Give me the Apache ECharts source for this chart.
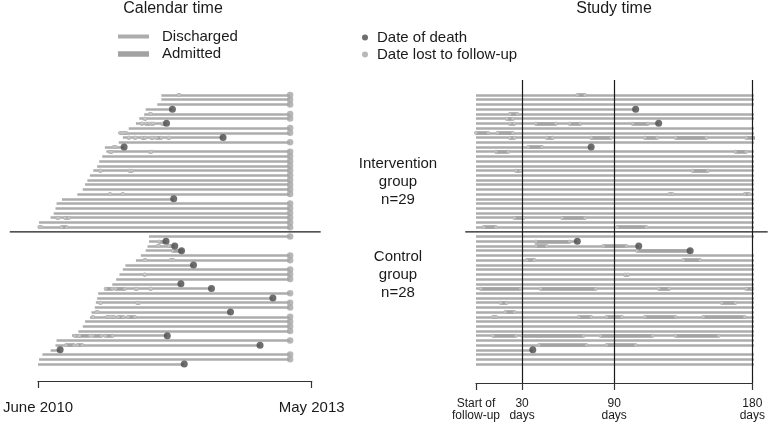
<!DOCTYPE html>
<html><head><meta charset="utf-8">
<script src="https://cdn.jsdelivr.net/npm/echarts@6/dist/echarts.min.js"></script>
<style>html,body{margin:0;padding:0;background:#fff}#c{width:768px;height:425px}</style>
</head><body><div id="c"></div>
<script>
// ---- Axis ticks ----
// Calendar time in days since 1 June 2010
const calendarTickDays = [0, 1065];
const calendarTickLabels = ['June 2010', 'May 2013'];
const studyTickDays = [0, 30, 90, 180];
const studyTickLabels = ['Start of\nfollow-up', '30\ndays', '90\ndays', '180\ndays'];
const studyRefLines = [30, 90, 180];
const endOfStudyDay = 981;       // calendar day on which all surviving patients were censored
const studyFollowUpDays = 182.5; // length of follow-up shown in study time
// extent of the group divider in each panel (axis units)
const calendarDividerSpan = [-110, 1100];
const studyDividerSpan = [-7, 190];

// ---- Groups ----
const groupNames = ['Intervention\ngroup', 'Control\ngroup'];

// Intervention group: start of follow-up (calendar day), death (study day), admissions (study days)
const interventionStart = [480,480,464,419,413,394,381,353,319,330,314,260,266,250,238,230,215,202,192,183,174,153,93,72,68,61,49,4,0];
const interventionDeath = [null,null,null,104,null,null,119,null,null,390,null,75,null,null,null,null,null,null,null,null,null,null,435,null,null,null,null,null,null];
const interventionAdmissions = [
  [[66,71]], [], [], [], [[22,27]], [[20,24]], [[22,25],[39,52],[61,68],[102,112]], [],
  [[0,8],[14,24]], [[22,25],[46,50],[75,88],[110,118],[130,150],[176,182]], [], [[34,43]],
  [[13,21],[169,176]], [], [], [], [[26,29],[141,151]], [], [], [], [],
  [[126,128],[175,178]], [], [], [], [], [[25,31],[56,71]], [], [[5,13],[92,111]]
];

// Control group
const controlStart = [432,432,426,419,400,381,340,330,317,304,289,260,234,230,225,221,208,202,183,174,157,132,72,68,49,17,4,0];
const controlDeath = [null,66,106,139.5,null,null,265,null,null,null,267,415,null,684,null,null,541,null,null,null,null,371,null,796,37,null,null,569];
const controlAdmissions = [
  [], [[39,61]], [[39,46],[83,98]], [[105,139]], [], [[33,38],[135,146]], [], [], [[97,99]], [], [],
  [[3,29],[42,78],[119,126],[176,180]], [], [], [[16,20],[160,169]], [], [[19,25]],
  [[11,13],[67,75],[85,95],[110,130],[148,175]], [], [], [], [[11,26],[30,70],[81,115],[130,158]],
  [], [[41,72],[85,104]], [], [], [], []
];

// ---- Build rows (row position on the y axis; a gap row separates the groups) ----
const rows = [];
interventionStart.forEach((s, i) => rows.push({ y: i, start: s, death: interventionDeath[i], adm: interventionAdmissions[i] }));
const separatorRow = interventionStart.length;
controlStart.forEach((s, i) => rows.push({ y: separatorRow + 1 + i, start: s, death: controlDeath[i], adm: controlAdmissions[i] }));

const calDisch = [], calAdm = [], calDeath = [], calLost = [], calMarks = [];
const stDisch = [], stAdm = [], stDeath = [], stMarks = [];
rows.forEach(r => {
  const calEnd = r.death != null ? r.start + r.death : endOfStudyDay;
  calDisch.push({ coords: [[r.start, r.y], [calEnd, r.y]] });
  if (r.death != null) calDeath.push([r.start + r.death, r.y]); else calLost.push([endOfStudyDay, r.y]);
  const stEnd = r.death != null ? Math.min(r.death, studyFollowUpDays) : studyFollowUpDays;
  stDisch.push({ coords: [[0, r.y], [stEnd, r.y]] });
  if (r.death != null && r.death <= studyFollowUpDays) stDeath.push([r.death, r.y]);
  r.adm.forEach(a => {
    calAdm.push({ coords: [[r.start + a[0], r.y], [r.start + a[1], r.y]] });
    calMarks.push([r.start + a[0], r.y], [r.start + a[1], r.y]);
    if (a[0] < stEnd) {
      const e = Math.min(a[1], stEnd);
      stAdm.push({ coords: [[a[0], r.y], [e, r.y]] });
      stMarks.push([a[0], r.y], [e, r.y]);
    }
  });
});

const yMinRow = -3.18;
const FONT = "'Liberation Sans', Arial, Helvetica, sans-serif";
const DISCH = '#acacac', ADM = '#a2a2a2', DEATH = '#4a4a4a', LOST = '#a6a6a6', INK = '#1a1a1a';
const DW = 2.5, AW = 3.6;

const chart = echarts.init(document.getElementById('c'), null, { renderer: 'canvas' });
const fmt = (days, labels) => v => { const k = days.indexOf(v); return k >= 0 ? labels[k] : ''; };

// divider drawn through the axes' own scales, allowed to run past the plot area
const dividerRender = (params, api) => {
  const p0 = api.coord([api.value(0), api.value(2)]);
  const p1 = api.coord([api.value(1), api.value(2)]);
  return { type: 'line', shape: { x1: p0[0], y1: p0[1], x2: p1[0], y2: p1[1] },
    style: { stroke: INK, lineWidth: 1.2 } };
};

const option = {
  animation: false,
  textStyle: { fontFamily: FONT },
  grid: [
    { left: 34, top: 80, width: 277.7, height: 301 },
    { left: 476, top: 80, width: 277.3, height: 303 }
  ],
  xAxis: [
    { type: 'value', gridIndex: 0, position: 'bottom', min: calendarTickDays[0], max: calendarTickDays[1],
      axisLine: { show: true, onZero: false, lineStyle: { color: '#333', width: 1.2 } },
      axisTick: { show: true, customValues: calendarTickDays, length: 7, lineStyle: { color: '#333', width: 1.2 } },
      axisLabel: { customValues: calendarTickDays, formatter: fmt(calendarTickDays, calendarTickLabels), margin: 19,
        fontSize: 15, color: INK, fontFamily: FONT },
      splitLine: { show: false } },
    { type: 'value', gridIndex: 1, position: 'bottom', min: 0, max: 180,
      axisLine: { show: true, onZero: false, lineStyle: { color: '#333', width: 1.2 } },
      axisTick: { show: true, customValues: studyTickDays, length: 7, lineStyle: { color: '#333', width: 1.2 } },
      axisLabel: { customValues: studyTickDays, formatter: fmt(studyTickDays, studyTickLabels), margin: 14,
        fontSize: 12, lineHeight: 12.5, color: INK, fontFamily: FONT },
      splitLine: { show: false } }
  ],
  yAxis: [
    { type: 'value', gridIndex: 0, inverse: true, min: yMinRow, max: 60.6, show: false },
    { type: 'value', gridIndex: 1, inverse: true, min: yMinRow, max: 61.03, show: false }
  ],
  legend: [
    { data: [{ name: 'Discharged', icon: 'rect', itemStyle: { color: DISCH } }], left: 118, top: 29, padding: 0,
      itemWidth: 29, itemHeight: 2, selectedMode: false,
      textStyle: { fontSize: 15, color: INK, fontFamily: FONT, padding: [0, 0, 0, 9] } },
    { data: [{ name: 'Admitted', icon: 'rect', itemStyle: { color: ADM } }], left: 118, top: 46.5, padding: 0,
      itemWidth: 29, itemHeight: 3.5, selectedMode: false,
      textStyle: { fontSize: 15, color: INK, fontFamily: FONT, padding: [0, 0, 0, 9] } },
    { data: ['Date of death', 'Date lost to follow-up'], orient: 'vertical', left: 362, top: 29, padding: 0,
      itemWidth: 6, itemHeight: 6, itemGap: 0, icon: 'circle', selectedMode: false,
      textStyle: { fontSize: 15, color: INK, fontFamily: FONT, padding: [0, 0, 0, 4], lineHeight: 17 } }
  ],
  graphic: [
    { type: 'text', x: 173, y: 9, style: { text: 'Calendar time', font: '16px ' + FONT, fill: INK, textAlign: 'center', textVerticalAlign: 'middle' } },
    { type: 'text', x: 614, y: 9, style: { text: 'Study time', font: '16px ' + FONT, fill: INK, textAlign: 'center', textVerticalAlign: 'middle' } }
  ],
  series: [
    // ---- calendar time panel ----
    { name: 'Discharged', type: 'lines', coordinateSystem: 'cartesian2d', xAxisIndex: 0, yAxisIndex: 0,
      data: calDisch, lineStyle: { color: DISCH, width: DW, opacity: 1 }, silent: true, z: 2 },
    { name: 'Admitted', type: 'lines', coordinateSystem: 'cartesian2d', xAxisIndex: 0, yAxisIndex: 0,
      data: calAdm, lineStyle: { color: ADM, width: AW, opacity: 1, cap: 'round' }, silent: true, z: 3 },
    { name: 'marks', type: 'scatter', xAxisIndex: 0, yAxisIndex: 0, data: calMarks, symbolSize: 3,
      itemStyle: { color: '#cdcdcd', borderColor: '#b0b0b0', borderWidth: 0.5 }, silent: true, z: 4 },
    { name: 'Date lost to follow-up', type: 'scatter', xAxisIndex: 0, yAxisIndex: 0, data: calLost,
      symbolSize: 6.5, itemStyle: { color: LOST }, silent: true, z: 4 },
    { name: 'Date of death', type: 'scatter', xAxisIndex: 0, yAxisIndex: 0, data: calDeath,
      symbolSize: 7, itemStyle: { color: DEATH }, silent: true, z: 5 },
    { name: 'divider', type: 'custom', xAxisIndex: 0, yAxisIndex: 0, clip: false, silent: true, z: 6,
      data: [[calendarDividerSpan[0], calendarDividerSpan[1], separatorRow]], renderItem: dividerRender },
    // ---- study time panel ----
    { name: 'Discharged', type: 'lines', coordinateSystem: 'cartesian2d', xAxisIndex: 1, yAxisIndex: 1,
      data: stDisch, lineStyle: { color: DISCH, width: DW, opacity: 1 }, silent: true, z: 2,
      markLine: { silent: true, symbol: 'none', label: { show: false },
        lineStyle: { color: INK, width: 1.2, type: 'solid' },
        data: studyRefLines.map(d => ({ xAxis: d })) } },
    { name: 'Admitted', type: 'lines', coordinateSystem: 'cartesian2d', xAxisIndex: 1, yAxisIndex: 1,
      data: stAdm, lineStyle: { color: ADM, width: AW, opacity: 1, cap: 'round' }, silent: true, z: 3 },
    { name: 'marks', type: 'scatter', xAxisIndex: 1, yAxisIndex: 1, data: stMarks, symbolSize: 3,
      itemStyle: { color: '#cdcdcd', borderColor: '#b0b0b0', borderWidth: 0.5 }, silent: true, z: 4 },
    { name: 'Date of death', type: 'scatter', xAxisIndex: 1, yAxisIndex: 1, data: stDeath,
      symbolSize: 7, itemStyle: { color: DEATH }, silent: true, z: 5 },
    { name: 'divider', type: 'custom', xAxisIndex: 1, yAxisIndex: 1, clip: false, silent: true, z: 6,
      data: [[studyDividerSpan[0], studyDividerSpan[1], separatorRow]], renderItem: dividerRender }
  ]
};

// group labels (text built from the group arrays)
const groupSizes = [interventionStart.length, controlStart.length];
const groupCenters = [181.7, 275];
groupNames.forEach((g, i) => {
  option.graphic.push({ type: 'text', x: 398, y: groupCenters[i],
    style: { text: g + '\nn=' + groupSizes[i], font: '15px ' + FONT, fill: INK, lineHeight: 17.7,
      textAlign: 'center', textVerticalAlign: 'middle' } });
});

chart.setOption(option);
</script>
</body></html>
